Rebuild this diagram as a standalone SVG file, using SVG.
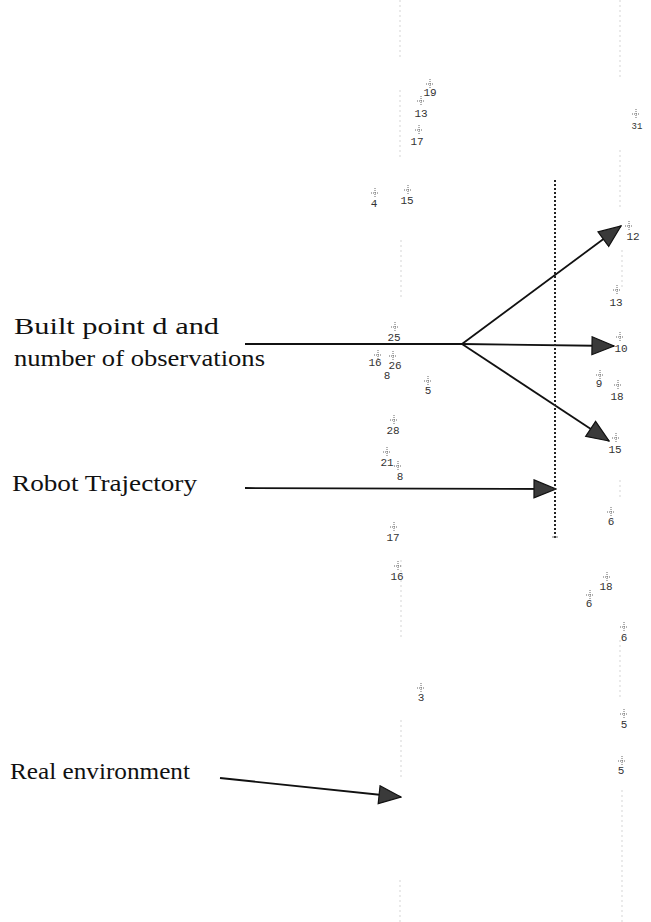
<svg xmlns="http://www.w3.org/2000/svg" width="651" height="922" viewBox="0 0 651 922">
<style>
.lbl{font-family:"Liberation Serif","Times New Roman",serif;font-size:23px;fill:#111}
.num{font-family:"Liberation Mono",monospace;font-size:11px;fill:#333;text-anchor:middle}
.pl{stroke:#555;stroke-width:0.9;stroke-dasharray:1 1}
.faint{stroke:#e4e4e4;stroke-width:1.5;stroke-dasharray:2 3;fill:none}
.conn{stroke:#111;stroke-width:1.8;fill:none}
</style>
<defs>
<marker id="ah" viewBox="0 0 24 20" refX="23" refY="10" markerWidth="24" markerHeight="20" markerUnits="userSpaceOnUse" orient="auto">
<path d="M1,1 L23,10 L1,19 Z" fill="#3a3a3a" stroke="#111" stroke-width="1.2"/>
</marker>
<g id="plus"><path class="pl" d="M-4,0 H4 M0,-5 V4"/></g>
</defs>
<rect width="651" height="922" fill="#fff"/>
<g id="background-grid">
<path class="faint" d="M400,0 V60 M400,90 V160 M401,240 V300 M401,560 V640 M401,720 V780 M400,880 V922"/>
<path class="faint" d="M620,0 V80 M620,150 V210 M622,250 V290 M620,480 V500 M620,640 V700 M622,790 V922"/>
</g>
<g id="connectors">
<path class="conn" d="M245,344 H462"/>
<path class="conn" d="M462,344 L621,226" marker-end="url(#ah)"/>
<path class="conn" d="M462,344 L614,346" marker-end="url(#ah)"/>
<path class="conn" d="M462,344 L609,441" marker-end="url(#ah)"/>
<path class="conn" d="M245,488 L556,489" marker-end="url(#ah)"/>
<path class="conn" d="M220,778 L401,797" marker-end="url(#ah)"/>
<path stroke="#222" stroke-width="2" stroke-dasharray="2 2" d="M555,180 V540"/>
<path stroke="#555" stroke-width="0.8" d="M552,537 H558"/>
</g>
<g id="label-built">
<text class="lbl" x="14" y="334" textLength="205" lengthAdjust="spacingAndGlyphs">Built point d and</text>
<text class="lbl" x="14" y="366" textLength="251" lengthAdjust="spacingAndGlyphs">number of observations</text>
</g>
<g id="label-robot"><text class="lbl" x="12" y="491" textLength="185" lengthAdjust="spacingAndGlyphs">Robot Trajectory</text></g>
<g id="label-real"><text class="lbl" x="10" y="779" textLength="180" lengthAdjust="spacingAndGlyphs">Real environment</text></g>
<g id="markers">
<g id="m19"><use href="#plus" x="430" y="84"/><text class="num" x="430" y="96">19</text></g>
<g id="m13a"><use href="#plus" x="421" y="101"/><text class="num" x="421" y="117">13</text></g>
<g id="m17a"><use href="#plus" x="419" y="130"/><text class="num" x="417" y="145">17</text></g>
<g id="m4"><use href="#plus" x="375" y="193"/><text class="num" x="374" y="207">4</text></g>
<g id="m15a"><use href="#plus" x="408" y="190"/><text class="num" x="407" y="204">15</text></g>
<g id="mcl"><use href="#plus" x="636" y="114"/><text class="num" x="637" y="129" style="font-size:9px">31</text></g>
<g id="m12"><use href="#plus" x="629" y="226"/><text class="num" x="633" y="240">12</text></g>
<g id="m25"><use href="#plus" x="395" y="327"/><text class="num" x="394" y="341">25</text></g>
<g id="m16a"><use href="#plus" x="378" y="355"/><text class="num" x="375" y="366">16</text></g>
<g id="m26"><use href="#plus" x="393" y="356"/><text class="num" x="395" y="369">26</text></g>
<g id="m8a"><text class="num" x="387" y="379">8</text></g>
<g id="m5a"><use href="#plus" x="428" y="381"/><text class="num" x="428" y="394">5</text></g>
<g id="m28"><use href="#plus" x="394" y="420"/><text class="num" x="393" y="434">28</text></g>
<g id="m21"><use href="#plus" x="387" y="452"/><text class="num" x="387" y="466">21</text><use href="#plus" x="398" y="466"/><text class="num" x="400" y="480">8</text></g>
<g id="m17b"><use href="#plus" x="394" y="527"/><text class="num" x="393" y="541">17</text></g>
<g id="m16b"><use href="#plus" x="398" y="566"/><text class="num" x="397" y="580">16</text></g>
<g id="m3"><use href="#plus" x="421" y="688"/><text class="num" x="421" y="701">3</text></g>
<g id="m13b"><use href="#plus" x="617" y="290"/><text class="num" x="616" y="306">13</text></g>
<g id="m10"><use href="#plus" x="620" y="337"/><text class="num" x="621" y="352">10</text></g>
<g id="m9"><use href="#plus" x="600" y="375"/><text class="num" x="599" y="387">9</text></g>
<g id="m18a"><use href="#plus" x="618" y="385"/><text class="num" x="617" y="400">18</text></g>
<g id="m15b"><use href="#plus" x="616" y="438"/><text class="num" x="615" y="453">15</text></g>
<g id="m6a"><use href="#plus" x="611" y="512"/><text class="num" x="611" y="525">6</text></g>
<g id="m18b"><use href="#plus" x="607" y="577"/><text class="num" x="606" y="590">18</text></g>
<g id="m6b"><use href="#plus" x="590" y="595"/><text class="num" x="589" y="607">6</text></g>
<g id="m6c"><use href="#plus" x="624" y="627"/><text class="num" x="624" y="641">6</text></g>
<g id="m5b"><use href="#plus" x="624" y="714"/><text class="num" x="624" y="728">5</text></g>
<g id="m5c"><use href="#plus" x="622" y="761"/><text class="num" x="621" y="774">5</text></g>
</g>
</svg>
